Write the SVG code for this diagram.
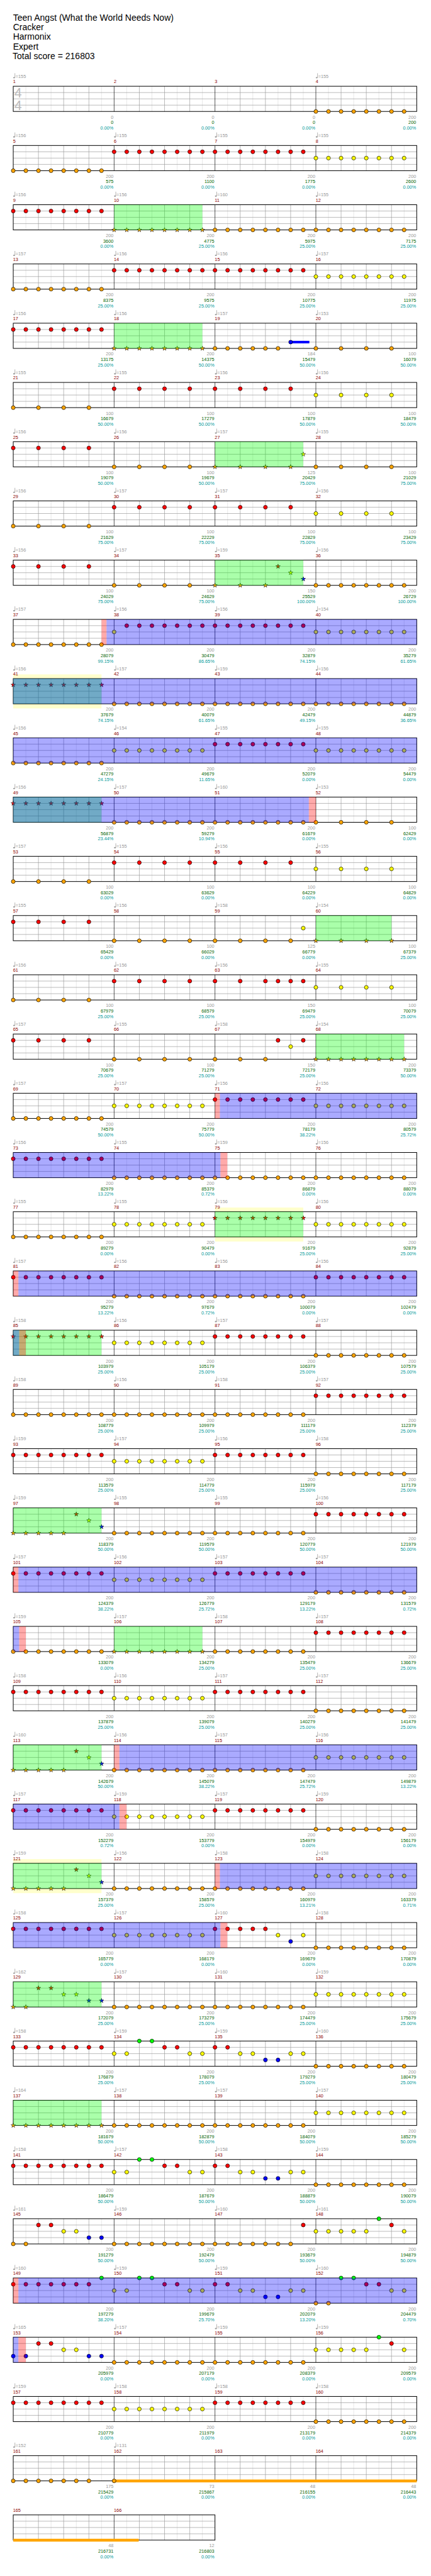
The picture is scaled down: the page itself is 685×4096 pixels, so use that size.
<svg xmlns="http://www.w3.org/2000/svg" width="685" height="4096" viewBox="0 0 685 4096">
<defs>
<style>
text{font-family:"Liberation Sans",Arial,sans-serif;font-size:11px}
.t{fill:#999}.m{fill:#8b0000}
.s1,.s2,.s3{text-anchor:end}
.s1{fill:#999}.s2{fill:#006400}.s3{fill:#009999}
.hd{font-size:21px;fill:#000}
.ts{font-size:32px;fill:#bbb}
.k{fill:#ffa500}.r{fill:#f00}.y{fill:#ff0}.b{fill:#00f}.g{fill:#0f0}
.og{fill:#0f0;fill-opacity:.333}.ob{fill:#00f;fill-opacity:.333}.or{fill:#f00;fill-opacity:.333}
.yb{fill:#ffffcc}
.l8{stroke:#ddd;stroke-width:1;fill:none}.l4{stroke:#999;stroke-width:1;fill:none}.l1{stroke:#000;stroke-width:1;fill:none}
.bd{fill:none;stroke:#000;stroke-width:1.5}
</style>
<circle id="c" r="4.6" stroke="#000" stroke-width="1"/>
<path id="s" d="M0-5.6L1.29-1.78L5.33-1.73L2.09.68L3.29 4.53L0 2.2L-3.29 4.53L-2.09.68L-5.33-1.73L-1.29-1.78Z" stroke="#000" stroke-width=".8"/>
<g id="e8"><use href="#c"/><use href="#c" x="30"/><use href="#c" x="60"/><use href="#c" x="90"/><use href="#c" x="120"/><use href="#c" x="150"/><use href="#c" x="180"/><use href="#c" x="210"/></g>
<g id="q4"><use href="#c"/><use href="#c" x="60"/><use href="#c" x="120"/><use href="#c" x="180"/></g>
<g id="s8"><use href="#s"/><use href="#s" x="30"/><use href="#s" x="60"/><use href="#s" x="90"/><use href="#s" x="120"/><use href="#s" x="150"/><use href="#s" x="180"/><use href="#s" x="210"/></g>
<g id="sq4"><use href="#s"/><use href="#s" x="60"/><use href="#s" x="120"/><use href="#s" x="180"/></g>
<g id="sp1"><use href="#s" class="k" y="60"/><use href="#s" class="k" x="30" y="60"/><use href="#s" class="k" x="60" y="60"/><use href="#s" class="k" x="90" y="60"/><use href="#s" class="k" x="120" y="60"/><use href="#s" class="r" x="150" y="15"/><use href="#s" class="y" x="180" y="30"/><use href="#s" class="b" x="210" y="45"/></g>
<g id="fA"><use href="#c" class="y" y="30"/><use href="#c" class="y" x="30" y="30"/><use href="#c" class="g" x="60"/><use href="#c" class="g" x="90"/><use href="#c" class="r" x="120" y="15"/><use href="#c" class="r" x="150" y="15"/><use href="#c" class="y" x="180" y="30"/><use href="#c" class="y" x="210" y="30"/><use href="#c" class="r" x="240" y="15"/><use href="#c" class="r" x="270" y="15"/><use href="#c" class="y" x="300" y="30"/><use href="#c" class="y" x="330" y="30"/><use href="#c" class="b" x="360" y="45"/><use href="#c" class="b" x="390" y="45"/><use href="#c" class="y" x="420" y="30"/><use href="#c" class="y" x="450" y="30"/></g>
<g id="end1"><use href="#c" class="y" y="30"/><use href="#c" class="y" x="30" y="30"/><use href="#c" class="y" x="60" y="30"/><use href="#c" class="y" x="90" y="30"/><use href="#c" class="y" x="120" y="30"/><use href="#c" class="g" x="150"/><use href="#c" class="r" x="180" y="15"/><use href="#c" class="y" x="210" y="30"/></g>
<g id="rb6"><use href="#c" class="r" y="15"/><use href="#c" class="r" x="30" y="15"/><use href="#c" class="y" x="60" y="30"/><use href="#c" class="y" x="90" y="30"/><use href="#c" class="b" x="120" y="45"/><use href="#c" class="b" x="150" y="45"/></g>
<g id="g4">
<rect x="31.5" width="960" height="60" fill="#fff"/>
<path class="l8" d="M61.5 0v60M121.5 0v60M181.5 0v60M241.5 0v60M301.5 0v60M361.5 0v60M421.5 0v60M481.5 0v60M541.5 0v60M601.5 0v60M661.5 0v60M721.5 0v60M781.5 0v60M841.5 0v60M901.5 0v60M961.5 0v60"/>
<path class="l4" d="M91.5 0v60M151.5 0v60M211.5 0v60M331.5 0v60M391.5 0v60M451.5 0v60M571.5 0v60M631.5 0v60M691.5 0v60M811.5 0v60M871.5 0v60M931.5 0v60M31.5 15h960M31.5 30h960M31.5 45h960"/>
<path class="l1" d="M271.5 0v60M511.5 0v60M751.5 0v60"/>
<rect class="bd" x="31.5" width="960" height="60"/>
</g>
<g id="g2">
<rect x="31.5" width="480" height="60" fill="#fff"/>
<path class="l8" d="M61.5 0v60M121.5 0v60M181.5 0v60M241.5 0v60M301.5 0v60M361.5 0v60M421.5 0v60M481.5 0v60"/>
<path class="l4" d="M91.5 0v60M151.5 0v60M211.5 0v60M331.5 0v60M391.5 0v60M451.5 0v60M31.5 15h480M31.5 30h480M31.5 45h480"/>
<path class="l1" d="M271.5 0v60"/>
<rect class="bd" x="31.5" width="480" height="60"/>
</g>
<g id="tq"><path d="M4-31v10.5" stroke="#999" stroke-width="1.1"/><ellipse cx="2" cy="-20.5" rx="2.3" ry="1.6" fill="#999"/></g>
<g id="tq4"><use href="#tq" x="31.5"/><use href="#tq" x="271.5"/><use href="#tq" x="511.5"/><use href="#tq" x="751.5"/></g>
</defs>
<rect width="685" height="4096" fill="#fff"/>
<g transform="scale(0.668)">
<g id="header">
<text class="hd" x="31" y="49">Teen Angst (What the World Needs Now)</text>
<text class="hd" x="31" y="72">Cracker</text>
<text class="hd" x="31" y="95">Harmonix</text>
<text class="hd" x="31" y="118">Expert</text>
<text class="hd" x="30" y="141">Total score = 216803</text>
</g>

<g id="row1" transform="translate(0 205.3)">
<use href="#g4"/>
<text class="ts" x="34" y="27">4</text><text class="ts" x="34" y="57">4</text>
<use href="#e8" class="k" x="751.5" y="60"/>
<use href="#tq" x="31.5"/><use href="#tq" x="751.5"/>
<text class="t" y="-20"><tspan x="37">=155</tspan><tspan x="757">=155</tspan></text>
<text class="m" y="-7"><tspan x="31">1</tspan><tspan x="271">2</tspan><tspan x="511">3</tspan><tspan x="751">4</tspan></text>
<text class="s1" y="77"><tspan x="270">0</tspan><tspan x="510">0</tspan><tspan x="750">0</tspan><tspan x="990">200</tspan></text>
<text class="s2" y="90"><tspan x="270">0</tspan><tspan x="510">0</tspan><tspan x="750">0</tspan><tspan x="990">200</tspan></text>
<text class="s3" y="103"><tspan x="270">0.00%</tspan><tspan x="510">0.00%</tspan><tspan x="750">0.00%</tspan><tspan x="990">0.00%</tspan></text>
</g>

<g id="row2" transform="translate(0 346.3)">
<use href="#g4"/>
<use href="#e8" class="k" x="31.5" y="60"/><use href="#e8" class="r" x="271.5" y="15"/><use href="#e8" class="r" x="511.5" y="15"/><use href="#e8" class="y" x="751.5" y="30"/>
<use href="#tq4"/>
<text class="t" y="-20"><tspan x="37">=156</tspan><tspan x="277">=155</tspan><tspan x="517">=155</tspan><tspan x="757">=155</tspan></text>
<text class="m" y="-7"><tspan x="31">5</tspan><tspan x="271">6</tspan><tspan x="511">7</tspan><tspan x="751">8</tspan></text>
<text class="s1" y="77"><tspan x="270">200</tspan><tspan x="510">200</tspan><tspan x="750">200</tspan><tspan x="990">200</tspan></text>
<text class="s2" y="90"><tspan x="270">575</tspan><tspan x="510">1100</tspan><tspan x="750">1775</tspan><tspan x="990">2600</tspan></text>
<text class="s3" y="103"><tspan x="270">0.00%</tspan><tspan x="510">0.00%</tspan><tspan x="750">0.00%</tspan><tspan x="990">0.00%</tspan></text>
</g>

<g id="row3" transform="translate(0 487.3)">
<use href="#g4"/>
<use href="#e8" class="r" x="31.5" y="15"/><use href="#s8" class="k" x="271.5" y="60"/><use href="#e8" class="k" x="511.5" y="60"/><use href="#e8" class="k" x="751.5" y="60"/>
<rect class="og" x="271.5" width="210" height="60"/>
<use href="#tq4"/>
<text class="t" y="-20"><tspan x="37">=156</tspan><tspan x="277">=156</tspan><tspan x="517">=160</tspan><tspan x="757">=155</tspan></text>
<text class="m" y="-7"><tspan x="31">9</tspan><tspan x="271">10</tspan><tspan x="511">11</tspan><tspan x="751">12</tspan></text>
<text class="s1" y="77"><tspan x="270">200</tspan><tspan x="510">200</tspan><tspan x="750">200</tspan><tspan x="990">200</tspan></text>
<text class="s2" y="90"><tspan x="270">3600</tspan><tspan x="510">4775</tspan><tspan x="750">5975</tspan><tspan x="990">7175</tspan></text>
<text class="s3" y="103"><tspan x="270">0.00%</tspan><tspan x="510">25.00%</tspan><tspan x="750">25.00%</tspan><tspan x="990">25.00%</tspan></text>
</g>

<g id="row4" transform="translate(0 628.3)">
<use href="#g4"/>
<use href="#e8" class="k" x="31.5" y="60"/><use href="#e8" class="r" x="271.5" y="15"/><use href="#e8" class="r" x="511.5" y="15"/><use href="#e8" class="y" x="751.5" y="30"/>
<use href="#tq4"/>
<text class="t" y="-20"><tspan x="37">=157</tspan><tspan x="277">=156</tspan><tspan x="517">=156</tspan><tspan x="757">=157</tspan></text>
<text class="m" y="-7"><tspan x="31">13</tspan><tspan x="271">14</tspan><tspan x="511">15</tspan><tspan x="751">16</tspan></text>
<text class="s1" y="77"><tspan x="270">200</tspan><tspan x="510">200</tspan><tspan x="750">200</tspan><tspan x="990">200</tspan></text>
<text class="s2" y="90"><tspan x="270">8375</tspan><tspan x="510">9575</tspan><tspan x="750">10775</tspan><tspan x="990">11975</tspan></text>
<text class="s3" y="103"><tspan x="270">25.00%</tspan><tspan x="510">25.00%</tspan><tspan x="750">25.00%</tspan><tspan x="990">25.00%</tspan></text>
</g>

<g id="row5" transform="translate(0 769.3)">
<use href="#g4"/>
<use href="#e8" class="r" x="31.5" y="15"/><use href="#s8" class="k" x="271.5" y="60"/>
<use href="#c" class="k" x="511.5" y="60"/><use href="#c" class="k" x="541.5" y="60"/><use href="#c" class="k" x="571.5" y="60"/><use href="#c" class="k" x="601.5" y="60"/><use href="#c" class="k" x="631.5" y="60"/><use href="#c" class="k" x="661.5" y="60"/>
<rect x="691.5" y="42" width="44.5" height="6" fill="#00f"/><use href="#c" class="b" x="691.5" y="45"/>
<use href="#q4" class="k" x="751.5" y="60"/>
<rect class="og" x="271.5" width="210" height="60"/>
<use href="#tq4"/>
<text class="t" y="-20"><tspan x="37">=156</tspan><tspan x="277">=156</tspan><tspan x="517">=157</tspan><tspan x="757">=153</tspan></text>
<text class="m" y="-7"><tspan x="31">17</tspan><tspan x="271">18</tspan><tspan x="511">19</tspan><tspan x="751">20</tspan></text>
<text class="s1" y="77"><tspan x="270">200</tspan><tspan x="510">200</tspan><tspan x="750">184</tspan><tspan x="990">100</tspan></text>
<text class="s2" y="90"><tspan x="270">13175</tspan><tspan x="510">14375</tspan><tspan x="750">15479</tspan><tspan x="990">16079</tspan></text>
<text class="s3" y="103"><tspan x="270">25.00%</tspan><tspan x="510">50.00%</tspan><tspan x="750">50.00%</tspan><tspan x="990">50.00%</tspan></text>
</g>

<g id="row6" transform="translate(0 910.3)">
<use href="#g4"/>
<use href="#q4" class="k" x="31.5" y="60"/><use href="#q4" class="r" x="271.5" y="15"/><use href="#q4" class="r" x="511.5" y="15"/><use href="#q4" class="y" x="751.5" y="30"/>
<use href="#tq4"/>
<text class="t" y="-20"><tspan x="37">=155</tspan><tspan x="277">=155</tspan><tspan x="517">=156</tspan><tspan x="757">=156</tspan></text>
<text class="m" y="-7"><tspan x="31">21</tspan><tspan x="271">22</tspan><tspan x="511">23</tspan><tspan x="751">24</tspan></text>
<text class="s1" y="77"><tspan x="270">100</tspan><tspan x="510">100</tspan><tspan x="750">100</tspan><tspan x="990">100</tspan></text>
<text class="s2" y="90"><tspan x="270">16679</tspan><tspan x="510">17279</tspan><tspan x="750">17879</tspan><tspan x="990">18479</tspan></text>
<text class="s3" y="103"><tspan x="270">50.00%</tspan><tspan x="510">50.00%</tspan><tspan x="750">50.00%</tspan><tspan x="990">50.00%</tspan></text>
</g>

<g id="row7" transform="translate(0 1051.3)">
<use href="#g4"/>
<use href="#q4" class="r" x="31.5" y="15"/><use href="#q4" class="k" x="271.5" y="60"/><use href="#sq4" class="k" x="511.5" y="60"/><use href="#s" class="y" x="721.5" y="30"/><use href="#q4" class="k" x="751.5" y="60"/>
<rect class="og" x="511.5" width="210" height="60"/>
<use href="#tq4"/>
<text class="t" y="-20"><tspan x="37">=156</tspan><tspan x="277">=156</tspan><tspan x="517">=157</tspan><tspan x="757">=155</tspan></text>
<text class="m" y="-7"><tspan x="31">25</tspan><tspan x="271">26</tspan><tspan x="511">27</tspan><tspan x="751">28</tspan></text>
<text class="s1" y="77"><tspan x="270">100</tspan><tspan x="510">100</tspan><tspan x="750">125</tspan><tspan x="990">100</tspan></text>
<text class="s2" y="90"><tspan x="270">19079</tspan><tspan x="510">19679</tspan><tspan x="750">20429</tspan><tspan x="990">21029</tspan></text>
<text class="s3" y="103"><tspan x="270">50.00%</tspan><tspan x="510">50.00%</tspan><tspan x="750">75.00%</tspan><tspan x="990">75.00%</tspan></text>
</g>

<g id="row8" transform="translate(0 1192.3)">
<use href="#g4"/>
<use href="#q4" class="k" x="31.5" y="60"/><use href="#q4" class="r" x="271.5" y="15"/><use href="#q4" class="r" x="511.5" y="15"/><use href="#q4" class="y" x="751.5" y="30"/>
<use href="#tq4"/>
<text class="t" y="-20"><tspan x="37">=156</tspan><tspan x="277">=157</tspan><tspan x="517">=157</tspan><tspan x="757">=156</tspan></text>
<text class="m" y="-7"><tspan x="31">29</tspan><tspan x="271">30</tspan><tspan x="511">31</tspan><tspan x="751">32</tspan></text>
<text class="s1" y="77"><tspan x="270">100</tspan><tspan x="510">100</tspan><tspan x="750">100</tspan><tspan x="990">100</tspan></text>
<text class="s2" y="90"><tspan x="270">21629</tspan><tspan x="510">22229</tspan><tspan x="750">22829</tspan><tspan x="990">23429</tspan></text>
<text class="s3" y="103"><tspan x="270">75.00%</tspan><tspan x="510">75.00%</tspan><tspan x="750">75.00%</tspan><tspan x="990">75.00%</tspan></text>
</g>

<g id="row9" transform="translate(0 1333.3)">
<use href="#g4"/>
<use href="#q4" class="r" x="31.5" y="15"/><use href="#q4" class="k" x="271.5" y="60"/>
<use href="#s" class="k" x="511.5" y="60"/><use href="#s" class="k" x="571.5" y="60"/><use href="#s" class="k" x="631.5" y="60"/><use href="#s" class="r" x="661.5" y="15"/><use href="#s" class="y" x="691.5" y="30"/><use href="#s" class="b" x="721.5" y="45"/>
<use href="#e8" class="k" x="751.5" y="60"/>
<rect class="og" x="511.5" width="210" height="60"/>
<use href="#tq4"/>
<text class="t" y="-20"><tspan x="37">=156</tspan><tspan x="277">=157</tspan><tspan x="517">=159</tspan><tspan x="757">=156</tspan></text>
<text class="m" y="-7"><tspan x="31">33</tspan><tspan x="271">34</tspan><tspan x="511">35</tspan><tspan x="751">36</tspan></text>
<text class="s1" y="77"><tspan x="270">100</tspan><tspan x="510">100</tspan><tspan x="750">150</tspan><tspan x="990">200</tspan></text>
<text class="s2" y="90"><tspan x="270">24029</tspan><tspan x="510">24629</tspan><tspan x="750">25529</tspan><tspan x="990">26729</tspan></text>
<text class="s3" y="103"><tspan x="270">75.00%</tspan><tspan x="510">75.00%</tspan><tspan x="750">100.00%</tspan><tspan x="990">100.00%</tspan></text>
</g>

<g id="row10" transform="translate(0 1474.3)">
<use href="#g4"/>
<use href="#e8" class="k" x="31.5" y="60"/><use href="#c" class="y" x="271.5" y="30"/>
<use href="#c" class="r" x="301.5" y="15"/><use href="#c" class="r" x="331.5" y="15"/><use href="#c" class="r" x="361.5" y="15"/><use href="#c" class="r" x="391.5" y="15"/><use href="#c" class="r" x="421.5" y="15"/><use href="#c" class="r" x="451.5" y="15"/><use href="#c" class="r" x="481.5" y="15"/>
<use href="#e8" class="r" x="511.5" y="15"/><use href="#e8" class="y" x="751.5" y="30"/>
<rect class="or" x="241.5" width="12" height="60"/><rect class="ob" x="253.5" width="738" height="60"/>
<use href="#tq4"/>
<text class="t" y="-20"><tspan x="37">=157</tspan><tspan x="277">=156</tspan><tspan x="517">=156</tspan><tspan x="757">=154</tspan></text>
<text class="m" y="-7"><tspan x="31">37</tspan><tspan x="271">38</tspan><tspan x="511">39</tspan><tspan x="751">40</tspan></text>
<text class="s1" y="77"><tspan x="270">200</tspan><tspan x="510">200</tspan><tspan x="750">200</tspan><tspan x="990">200</tspan></text>
<text class="s2" y="90"><tspan x="270">28079</tspan><tspan x="510">30479</tspan><tspan x="750">32879</tspan><tspan x="990">35279</tspan></text>
<text class="s3" y="103"><tspan x="270">99.15%</tspan><tspan x="510">86.65%</tspan><tspan x="750">74.15%</tspan><tspan x="990">61.65%</tspan></text>
</g>

<g id="row11" transform="translate(0 1615.3)">
<rect class="yb" x="31.5" y="-10" width="210" height="81"/>
<use href="#g4"/>
<use href="#s8" class="r" x="31.5" y="15"/><use href="#e8" class="k" x="271.5" y="60"/><use href="#e8" class="k" x="511.5" y="60"/><use href="#e8" class="k" x="751.5" y="60"/>
<rect class="og" x="31.5" width="210" height="60"/><rect class="ob" x="31.5" width="960" height="60"/>
<use href="#tq4"/>
<text class="t" y="-20"><tspan x="37">=156</tspan><tspan x="277">=157</tspan><tspan x="517">=159</tspan><tspan x="757">=156</tspan></text>
<text class="m" y="-7"><tspan x="31">41</tspan><tspan x="271">42</tspan><tspan x="511">43</tspan><tspan x="751">44</tspan></text>
<text class="s1" y="77"><tspan x="270">200</tspan><tspan x="510">200</tspan><tspan x="750">200</tspan><tspan x="990">200</tspan></text>
<text class="s2" y="90"><tspan x="270">37679</tspan><tspan x="510">40079</tspan><tspan x="750">42479</tspan><tspan x="990">44879</tspan></text>
<text class="s3" y="103"><tspan x="270">74.15%</tspan><tspan x="510">61.65%</tspan><tspan x="750">49.15%</tspan><tspan x="990">36.65%</tspan></text>
</g>

<g id="row12" transform="translate(0 1756.3)">
<use href="#g4"/>
<use href="#e8" class="k" x="31.5" y="60"/><use href="#e8" class="y" x="271.5" y="30"/><use href="#e8" class="r" x="511.5" y="15"/><use href="#e8" class="y" x="751.5" y="30"/>
<rect class="ob" x="31.5" width="960" height="60"/>
<use href="#tq4"/>
<text class="t" y="-20"><tspan x="37">=156</tspan><tspan x="277">=154</tspan><tspan x="517">=155</tspan><tspan x="757">=155</tspan></text>
<text class="m" y="-7"><tspan x="31">45</tspan><tspan x="271">46</tspan><tspan x="511">47</tspan><tspan x="751">48</tspan></text>
<text class="s1" y="77"><tspan x="270">200</tspan><tspan x="510">200</tspan><tspan x="750">200</tspan><tspan x="990">200</tspan></text>
<text class="s2" y="90"><tspan x="270">47279</tspan><tspan x="510">49679</tspan><tspan x="750">52079</tspan><tspan x="990">54479</tspan></text>
<text class="s3" y="103"><tspan x="270">24.15%</tspan><tspan x="510">11.65%</tspan><tspan x="750">0.00%</tspan><tspan x="990">0.00%</tspan></text>
</g>

<g id="row13" transform="translate(0 1897.3)">
<use href="#g4"/>
<use href="#s8" class="r" x="31.5" y="15"/><use href="#e8" class="k" x="271.5" y="60"/><use href="#e8" class="k" x="511.5" y="60"/><use href="#q4" class="k" x="751.5" y="60"/>
<rect class="og" x="31.5" width="210" height="60"/><rect class="ob" x="31.5" width="703.3" height="60"/><rect class="or" x="734.8" width="16.7" height="60"/>
<use href="#tq4"/>
<text class="t" y="-20"><tspan x="37">=156</tspan><tspan x="277">=157</tspan><tspan x="517">=160</tspan><tspan x="757">=153</tspan></text>
<text class="m" y="-7"><tspan x="31">49</tspan><tspan x="271">50</tspan><tspan x="511">51</tspan><tspan x="751">52</tspan></text>
<text class="s1" y="77"><tspan x="270">200</tspan><tspan x="510">200</tspan><tspan x="750">200</tspan><tspan x="990">100</tspan></text>
<text class="s2" y="90"><tspan x="270">56879</tspan><tspan x="510">59279</tspan><tspan x="750">61679</tspan><tspan x="990">62429</tspan></text>
<text class="s3" y="103"><tspan x="270">23.44%</tspan><tspan x="510">10.94%</tspan><tspan x="750">0.00%</tspan><tspan x="990">0.00%</tspan></text>
</g>

<g id="row14" transform="translate(0 2038.3)">
<use href="#g4"/>
<use href="#q4" class="k" x="31.5" y="60"/><use href="#q4" class="r" x="271.5" y="15"/><use href="#q4" class="r" x="511.5" y="15"/><use href="#q4" class="y" x="751.5" y="30"/>
<use href="#tq4"/>
<text class="t" y="-20"><tspan x="37">=157</tspan><tspan x="277">=155</tspan><tspan x="517">=156</tspan><tspan x="757">=155</tspan></text>
<text class="m" y="-7"><tspan x="31">53</tspan><tspan x="271">54</tspan><tspan x="511">55</tspan><tspan x="751">56</tspan></text>
<text class="s1" y="77"><tspan x="270">100</tspan><tspan x="510">100</tspan><tspan x="750">100</tspan><tspan x="990">100</tspan></text>
<text class="s2" y="90"><tspan x="270">63029</tspan><tspan x="510">63629</tspan><tspan x="750">64229</tspan><tspan x="990">64829</tspan></text>
<text class="s3" y="103"><tspan x="270">0.00%</tspan><tspan x="510">0.00%</tspan><tspan x="750">0.00%</tspan><tspan x="990">0.00%</tspan></text>
</g>

<g id="row15" transform="translate(0 2179.3)">
<use href="#g4"/>
<use href="#q4" class="r" x="31.5" y="15"/><use href="#q4" class="k" x="271.5" y="60"/><use href="#q4" class="k" x="511.5" y="60"/><use href="#c" class="y" x="721.5" y="30"/><use href="#sq4" class="k" x="751.5" y="60"/>
<rect class="og" x="751.5" width="180" height="60"/>
<use href="#tq4"/>
<text class="t" y="-20"><tspan x="37">=155</tspan><tspan x="277">=156</tspan><tspan x="517">=158</tspan><tspan x="757">=154</tspan></text>
<text class="m" y="-7"><tspan x="31">57</tspan><tspan x="271">58</tspan><tspan x="511">59</tspan><tspan x="751">60</tspan></text>
<text class="s1" y="77"><tspan x="270">100</tspan><tspan x="510">100</tspan><tspan x="750">125</tspan><tspan x="990">100</tspan></text>
<text class="s2" y="90"><tspan x="270">65429</tspan><tspan x="510">66029</tspan><tspan x="750">66779</tspan><tspan x="990">67379</tspan></text>
<text class="s3" y="103"><tspan x="270">0.00%</tspan><tspan x="510">0.00%</tspan><tspan x="750">0.00%</tspan><tspan x="990">25.00%</tspan></text>
</g>

<g id="row16" transform="translate(0 2320.3)">
<use href="#g4"/>
<use href="#q4" class="k" x="31.5" y="60"/><use href="#q4" class="r" x="271.5" y="15"/>
<use href="#c" class="r" x="511.5" y="15"/><use href="#c" class="r" x="571.5" y="15"/><use href="#c" class="r" x="631.5" y="15"/><use href="#c" class="r" x="661.5" y="15"/><use href="#c" class="r" x="691.5" y="15"/><use href="#c" class="r" x="721.5" y="15"/>
<use href="#q4" class="y" x="751.5" y="30"/>
<use href="#tq4"/>
<text class="t" y="-20"><tspan x="37">=156</tspan><tspan x="277">=156</tspan><tspan x="517">=156</tspan><tspan x="757">=155</tspan></text>
<text class="m" y="-7"><tspan x="31">61</tspan><tspan x="271">62</tspan><tspan x="511">63</tspan><tspan x="751">64</tspan></text>
<text class="s1" y="77"><tspan x="270">100</tspan><tspan x="510">100</tspan><tspan x="750">150</tspan><tspan x="990">100</tspan></text>
<text class="s2" y="90"><tspan x="270">67979</tspan><tspan x="510">68579</tspan><tspan x="750">69479</tspan><tspan x="990">70079</tspan></text>
<text class="s3" y="103"><tspan x="270">25.00%</tspan><tspan x="510">25.00%</tspan><tspan x="750">25.00%</tspan><tspan x="990">25.00%</tspan></text>
</g>

<g id="row17" transform="translate(0 2461.3)">
<use href="#g4"/>
<use href="#q4" class="r" x="31.5" y="15"/><use href="#q4" class="k" x="271.5" y="60"/>
<use href="#c" class="k" x="511.5" y="60"/><use href="#c" class="k" x="571.5" y="60"/><use href="#c" class="k" x="631.5" y="60"/><use href="#c" class="r" x="661.5" y="15"/><use href="#c" class="y" x="691.5" y="30"/><use href="#c" class="r" x="721.5" y="15"/>
<use href="#s8" class="k" x="751.5" y="60"/>
<rect class="og" x="751.5" width="210" height="60"/>
<use href="#tq4"/>
<text class="t" y="-20"><tspan x="37">=157</tspan><tspan x="277">=155</tspan><tspan x="517">=158</tspan><tspan x="757">=154</tspan></text>
<text class="m" y="-7"><tspan x="31">65</tspan><tspan x="271">66</tspan><tspan x="511">67</tspan><tspan x="751">68</tspan></text>
<text class="s1" y="77"><tspan x="270">100</tspan><tspan x="510">100</tspan><tspan x="750">150</tspan><tspan x="990">200</tspan></text>
<text class="s2" y="90"><tspan x="270">70679</tspan><tspan x="510">71279</tspan><tspan x="750">72179</tspan><tspan x="990">73379</tspan></text>
<text class="s3" y="103"><tspan x="270">25.00%</tspan><tspan x="510">25.00%</tspan><tspan x="750">25.00%</tspan><tspan x="990">50.00%</tspan></text>
</g>

<g id="row18" transform="translate(0 2602.3)">
<use href="#g4"/>
<use href="#e8" class="k" x="31.5" y="60"/><use href="#e8" class="y" x="271.5" y="30"/><use href="#e8" class="r" x="511.5" y="15"/><use href="#e8" class="y" x="751.5" y="30"/>
<rect class="or" x="511.5" width="11.7" height="60"/><rect class="ob" x="523.2" width="468.3" height="60"/>
<use href="#tq4"/>
<text class="t" y="-20"><tspan x="37">=157</tspan><tspan x="277">=157</tspan><tspan x="517">=156</tspan><tspan x="757">=156</tspan></text>
<text class="m" y="-7"><tspan x="31">69</tspan><tspan x="271">70</tspan><tspan x="511">71</tspan><tspan x="751">72</tspan></text>
<text class="s1" y="77"><tspan x="270">200</tspan><tspan x="510">200</tspan><tspan x="750">200</tspan><tspan x="990">200</tspan></text>
<text class="s2" y="90"><tspan x="270">74579</tspan><tspan x="510">75779</tspan><tspan x="750">78179</tspan><tspan x="990">80579</tspan></text>
<text class="s3" y="103"><tspan x="270">50.00%</tspan><tspan x="510">50.00%</tspan><tspan x="750">38.22%</tspan><tspan x="990">25.72%</tspan></text>
</g>

<g id="row19" transform="translate(0 2743.3)">
<use href="#g4"/>
<use href="#e8" class="r" x="31.5" y="15"/><use href="#e8" class="k" x="271.5" y="60"/><use href="#e8" class="k" x="511.5" y="60"/><use href="#e8" class="k" x="751.5" y="60"/>
<rect class="ob" x="31.5" width="493" height="60"/><rect class="or" x="524.5" width="16.3" height="60"/>
<use href="#tq4"/>
<text class="t" y="-20"><tspan x="37">=156</tspan><tspan x="277">=155</tspan><tspan x="517">=159</tspan><tspan x="757">=156</tspan></text>
<text class="m" y="-7"><tspan x="31">73</tspan><tspan x="271">74</tspan><tspan x="511">75</tspan><tspan x="751">76</tspan></text>
<text class="s1" y="77"><tspan x="270">200</tspan><tspan x="510">200</tspan><tspan x="750">200</tspan><tspan x="990">200</tspan></text>
<text class="s2" y="90"><tspan x="270">82979</tspan><tspan x="510">85379</tspan><tspan x="750">86879</tspan><tspan x="990">88079</tspan></text>
<text class="s3" y="103"><tspan x="270">13.22%</tspan><tspan x="510">0.72%</tspan><tspan x="750">0.00%</tspan><tspan x="990">0.00%</tspan></text>
</g>

<g id="row20" transform="translate(0 2884.3)">
<rect class="yb" x="511.5" y="-10" width="210" height="81"/>
<use href="#g4"/>
<use href="#e8" class="k" x="31.5" y="60"/><use href="#e8" class="y" x="271.5" y="30"/><use href="#s8" class="r" x="511.5" y="15"/><use href="#e8" class="y" x="751.5" y="30"/>
<rect class="og" x="511.5" width="210" height="60"/>
<use href="#tq4"/>
<text class="t" y="-20"><tspan x="37">=155</tspan><tspan x="277">=155</tspan><tspan x="517">=156</tspan><tspan x="757">=156</tspan></text>
<text class="m" y="-7"><tspan x="31">77</tspan><tspan x="271">78</tspan><tspan x="511">79</tspan><tspan x="751">80</tspan></text>
<text class="s1" y="77"><tspan x="270">200</tspan><tspan x="510">200</tspan><tspan x="750">200</tspan><tspan x="990">200</tspan></text>
<text class="s2" y="90"><tspan x="270">89279</tspan><tspan x="510">90479</tspan><tspan x="750">91679</tspan><tspan x="990">92879</tspan></text>
<text class="s3" y="103"><tspan x="270">0.00%</tspan><tspan x="510">0.00%</tspan><tspan x="750">25.00%</tspan><tspan x="990">25.00%</tspan></text>
</g>

<g id="row21" transform="translate(0 3025.3)">
<use href="#g4"/>
<use href="#e8" class="r" x="31.5" y="15"/><use href="#e8" class="k" x="271.5" y="60"/><use href="#e8" class="k" x="511.5" y="60"/><use href="#e8" class="r" x="751.5" y="15"/>
<rect class="or" x="31.5" width="12.3" height="60"/><rect class="ob" x="43.8" width="947.7" height="60"/>
<use href="#tq4"/>
<text class="t" y="-20"><tspan x="37">=157</tspan><tspan x="277">=156</tspan><tspan x="517">=156</tspan><tspan x="757">=156</tspan></text>
<text class="m" y="-7"><tspan x="31">81</tspan><tspan x="271">82</tspan><tspan x="511">83</tspan><tspan x="751">84</tspan></text>
<text class="s1" y="77"><tspan x="270">200</tspan><tspan x="510">200</tspan><tspan x="750">200</tspan><tspan x="990">200</tspan></text>
<text class="s2" y="90"><tspan x="270">95279</tspan><tspan x="510">97679</tspan><tspan x="750">100079</tspan><tspan x="990">102479</tspan></text>
<text class="s3" y="103"><tspan x="270">13.22%</tspan><tspan x="510">0.72%</tspan><tspan x="750">0.00%</tspan><tspan x="990">0.00%</tspan></text>
</g>

<g id="row22" transform="translate(0 3166.3)">
<use href="#g4"/>
<use href="#s8" class="r" x="31.5" y="15"/><use href="#e8" class="y" x="271.5" y="30"/><use href="#e8" class="r" x="511.5" y="15"/><use href="#e8" class="k" x="751.5" y="60"/>
<rect class="og" x="31.5" width="210" height="60"/><rect class="ob" x="31.5" width="14.2" height="60"/><rect class="or" x="45.7" width="15.7" height="60"/>
<use href="#tq4"/>
<text class="t" y="-20"><tspan x="37">=158</tspan><tspan x="277">=156</tspan><tspan x="517">=157</tspan><tspan x="757">=157</tspan></text>
<text class="m" y="-7"><tspan x="31">85</tspan><tspan x="271">86</tspan><tspan x="511">87</tspan><tspan x="751">88</tspan></text>
<text class="s1" y="77"><tspan x="270">200</tspan><tspan x="510">200</tspan><tspan x="750">200</tspan><tspan x="990">200</tspan></text>
<text class="s2" y="90"><tspan x="270">103979</tspan><tspan x="510">105179</tspan><tspan x="750">106379</tspan><tspan x="990">107579</tspan></text>
<text class="s3" y="103"><tspan x="270">25.00%</tspan><tspan x="510">25.00%</tspan><tspan x="750">25.00%</tspan><tspan x="990">25.00%</tspan></text>
</g>

<g id="row23" transform="translate(0 3307.3)">
<use href="#g4"/>
<use href="#e8" class="k" x="31.5" y="60"/><use href="#e8" class="k" x="271.5" y="60"/><use href="#e8" class="k" x="511.5" y="60"/><use href="#e8" class="r" x="751.5" y="15"/>
<use href="#tq4"/>
<text class="t" y="-20"><tspan x="37">=158</tspan><tspan x="277">=156</tspan><tspan x="517">=158</tspan><tspan x="757">=157</tspan></text>
<text class="m" y="-7"><tspan x="31">89</tspan><tspan x="271">90</tspan><tspan x="511">91</tspan><tspan x="751">92</tspan></text>
<text class="s1" y="77"><tspan x="270">200</tspan><tspan x="510">200</tspan><tspan x="750">200</tspan><tspan x="990">200</tspan></text>
<text class="s2" y="90"><tspan x="270">108779</tspan><tspan x="510">109979</tspan><tspan x="750">111179</tspan><tspan x="990">112379</tspan></text>
<text class="s3" y="103"><tspan x="270">25.00%</tspan><tspan x="510">25.00%</tspan><tspan x="750">25.00%</tspan><tspan x="990">25.00%</tspan></text>
</g>

<g id="row24" transform="translate(0 3448.3)">
<use href="#g4"/>
<use href="#e8" class="r" x="31.5" y="15"/><use href="#e8" class="y" x="271.5" y="30"/><use href="#e8" class="r" x="511.5" y="15"/><use href="#e8" class="k" x="751.5" y="60"/>
<use href="#tq4"/>
<text class="t" y="-20"><tspan x="37">=159</tspan><tspan x="277">=157</tspan><tspan x="517">=156</tspan><tspan x="757">=158</tspan></text>
<text class="m" y="-7"><tspan x="31">93</tspan><tspan x="271">94</tspan><tspan x="511">95</tspan><tspan x="751">96</tspan></text>
<text class="s1" y="77"><tspan x="270">200</tspan><tspan x="510">200</tspan><tspan x="750">200</tspan><tspan x="990">200</tspan></text>
<text class="s2" y="90"><tspan x="270">113579</tspan><tspan x="510">114779</tspan><tspan x="750">115979</tspan><tspan x="990">117179</tspan></text>
<text class="s3" y="103"><tspan x="270">25.00%</tspan><tspan x="510">25.00%</tspan><tspan x="750">25.00%</tspan><tspan x="990">25.00%</tspan></text>
</g>

<g id="row25" transform="translate(0 3589.3)">
<use href="#g4"/>
<use href="#sp1" x="31.5"/><use href="#e8" class="k" x="271.5" y="60"/><use href="#e8" class="k" x="511.5" y="60"/><use href="#e8" class="r" x="751.5" y="15"/>
<rect class="og" x="31.5" width="210" height="60"/>
<use href="#tq4"/>
<text class="t" y="-20"><tspan x="37">=159</tspan><tspan x="277">=155</tspan><tspan x="517">=155</tspan><tspan x="757">=156</tspan></text>
<text class="m" y="-7"><tspan x="31">97</tspan><tspan x="271">98</tspan><tspan x="511">99</tspan><tspan x="751">100</tspan></text>
<text class="s1" y="77"><tspan x="270">200</tspan><tspan x="510">200</tspan><tspan x="750">200</tspan><tspan x="990">200</tspan></text>
<text class="s2" y="90"><tspan x="270">118379</tspan><tspan x="510">119579</tspan><tspan x="750">120779</tspan><tspan x="990">121979</tspan></text>
<text class="s3" y="103"><tspan x="270">50.00%</tspan><tspan x="510">50.00%</tspan><tspan x="750">50.00%</tspan><tspan x="990">50.00%</tspan></text>
</g>

<g id="row26" transform="translate(0 3730.3)">
<use href="#g4"/>
<use href="#e8" class="r" x="31.5" y="15"/><use href="#e8" class="y" x="271.5" y="30"/><use href="#e8" class="r" x="511.5" y="15"/><use href="#e8" class="k" x="751.5" y="60"/>
<rect class="or" x="31.5" width="12.3" height="60"/><rect class="ob" x="43.8" width="947.7" height="60"/>
<use href="#tq4"/>
<text class="t" y="-20"><tspan x="37">=157</tspan><tspan x="277">=156</tspan><tspan x="517">=157</tspan><tspan x="757">=157</tspan></text>
<text class="m" y="-7"><tspan x="31">101</tspan><tspan x="271">102</tspan><tspan x="511">103</tspan><tspan x="751">104</tspan></text>
<text class="s1" y="77"><tspan x="270">200</tspan><tspan x="510">200</tspan><tspan x="750">200</tspan><tspan x="990">200</tspan></text>
<text class="s2" y="90"><tspan x="270">124379</tspan><tspan x="510">126779</tspan><tspan x="750">129179</tspan><tspan x="990">131579</tspan></text>
<text class="s3" y="103"><tspan x="270">38.22%</tspan><tspan x="510">25.72%</tspan><tspan x="750">13.22%</tspan><tspan x="990">0.72%</tspan></text>
</g>

<g id="row27" transform="translate(0 3871.3)">
<use href="#g4"/>
<use href="#e8" class="k" x="31.5" y="60"/><use href="#s8" class="k" x="271.5" y="60"/><use href="#e8" class="k" x="511.5" y="60"/><use href="#e8" class="r" x="751.5" y="15"/>
<rect class="ob" x="31.5" width="14.2" height="60"/><rect class="or" x="45.7" width="15.7" height="60"/><rect class="og" x="271.5" width="210" height="60"/>
<use href="#tq4"/>
<text class="t" y="-20"><tspan x="37">=159</tspan><tspan x="277">=157</tspan><tspan x="517">=158</tspan><tspan x="757">=157</tspan></text>
<text class="m" y="-7"><tspan x="31">105</tspan><tspan x="271">106</tspan><tspan x="511">107</tspan><tspan x="751">108</tspan></text>
<text class="s1" y="77"><tspan x="270">200</tspan><tspan x="510">200</tspan><tspan x="750">200</tspan><tspan x="990">200</tspan></text>
<text class="s2" y="90"><tspan x="270">133079</tspan><tspan x="510">134279</tspan><tspan x="750">135479</tspan><tspan x="990">136679</tspan></text>
<text class="s3" y="103"><tspan x="270">0.00%</tspan><tspan x="510">25.00%</tspan><tspan x="750">25.00%</tspan><tspan x="990">25.00%</tspan></text>
</g>

<g id="row28" transform="translate(0 4012.3)">
<use href="#g4"/>
<use href="#e8" class="r" x="31.5" y="15"/><use href="#e8" class="y" x="271.5" y="30"/><use href="#e8" class="r" x="511.5" y="15"/><use href="#e8" class="k" x="751.5" y="60"/>
<use href="#tq4"/>
<text class="t" y="-20"><tspan x="37">=158</tspan><tspan x="277">=156</tspan><tspan x="517">=157</tspan><tspan x="757">=157</tspan></text>
<text class="m" y="-7"><tspan x="31">109</tspan><tspan x="271">110</tspan><tspan x="511">111</tspan><tspan x="751">112</tspan></text>
<text class="s1" y="77"><tspan x="270">200</tspan><tspan x="510">200</tspan><tspan x="750">200</tspan><tspan x="990">200</tspan></text>
<text class="s2" y="90"><tspan x="270">137879</tspan><tspan x="510">139079</tspan><tspan x="750">140279</tspan><tspan x="990">141479</tspan></text>
<text class="s3" y="103"><tspan x="270">25.00%</tspan><tspan x="510">25.00%</tspan><tspan x="750">25.00%</tspan><tspan x="990">25.00%</tspan></text>
</g>

<g id="row29" transform="translate(0 4153.3)">
<use href="#g4"/>
<use href="#sp1" x="31.5"/><use href="#e8" class="k" x="271.5" y="60"/><use href="#e8" class="k" x="511.5" y="60"/><use href="#e8" class="y" x="751.5" y="30"/>
<rect class="og" x="31.5" width="210" height="60"/><rect class="or" x="271.5" width="12.6" height="60"/><rect class="ob" x="284.1" width="707.4" height="60"/>
<use href="#tq4"/>
<text class="t" y="-20"><tspan x="37">=160</tspan><tspan x="277">=156</tspan><tspan x="517">=157</tspan><tspan x="757">=156</tspan></text>
<text class="m" y="-7"><tspan x="31">113</tspan><tspan x="271">114</tspan><tspan x="511">115</tspan><tspan x="751">116</tspan></text>
<text class="s1" y="77"><tspan x="270">200</tspan><tspan x="510">200</tspan><tspan x="750">200</tspan><tspan x="990">200</tspan></text>
<text class="s2" y="90"><tspan x="270">142679</tspan><tspan x="510">145079</tspan><tspan x="750">147479</tspan><tspan x="990">149879</tspan></text>
<text class="s3" y="103"><tspan x="270">50.00%</tspan><tspan x="510">38.22%</tspan><tspan x="750">25.72%</tspan><tspan x="990">13.22%</tspan></text>
</g>

<g id="row30" transform="translate(0 4294.3)">
<use href="#g4"/>
<use href="#e8" class="r" x="31.5" y="15"/><use href="#e8" class="y" x="271.5" y="30"/><use href="#e8" class="r" x="511.5" y="15"/><use href="#e8" class="k" x="751.5" y="60"/>
<rect class="ob" x="31.5" width="252.6" height="60"/><rect class="or" x="284.1" width="17" height="60"/>
<use href="#tq4"/>
<text class="t" y="-20"><tspan x="37">=157</tspan><tspan x="277">=159</tspan><tspan x="517">=157</tspan><tspan x="757">=159</tspan></text>
<text class="m" y="-7"><tspan x="31">117</tspan><tspan x="271">118</tspan><tspan x="511">119</tspan><tspan x="751">120</tspan></text>
<text class="s1" y="77"><tspan x="270">200</tspan><tspan x="510">200</tspan><tspan x="750">200</tspan><tspan x="990">200</tspan></text>
<text class="s2" y="90"><tspan x="270">152279</tspan><tspan x="510">153779</tspan><tspan x="750">154979</tspan><tspan x="990">156179</tspan></text>
<text class="s3" y="103"><tspan x="270">0.72%</tspan><tspan x="510">0.00%</tspan><tspan x="750">0.00%</tspan><tspan x="990">0.00%</tspan></text>
</g>

<g id="row31" transform="translate(0 4435.3)">
<rect class="yb" x="31.5" y="-10" width="210" height="81"/>
<use href="#g4"/>
<use href="#sp1" x="31.5"/><use href="#e8" class="k" x="271.5" y="60"/><use href="#e8" class="k" x="511.5" y="60"/><use href="#e8" class="y" x="751.5" y="30"/>
<rect class="og" x="31.5" width="210" height="60"/><rect class="or" x="511.5" width="11.7" height="60"/><rect class="ob" x="523.2" width="468.3" height="60"/>
<use href="#tq4"/>
<text class="t" y="-20"><tspan x="37">=159</tspan><tspan x="277">=156</tspan><tspan x="517">=158</tspan><tspan x="757">=158</tspan></text>
<text class="m" y="-7"><tspan x="31">121</tspan><tspan x="271">122</tspan><tspan x="511">123</tspan><tspan x="751">124</tspan></text>
<text class="s1" y="77"><tspan x="270">200</tspan><tspan x="510">200</tspan><tspan x="750">200</tspan><tspan x="990">200</tspan></text>
<text class="s2" y="90"><tspan x="270">157379</tspan><tspan x="510">158579</tspan><tspan x="750">160979</tspan><tspan x="990">163379</tspan></text>
<text class="s3" y="103"><tspan x="270">25.00%</tspan><tspan x="510">25.00%</tspan><tspan x="750">13.21%</tspan><tspan x="990">0.71%</tspan></text>
</g>

<g id="row32" transform="translate(0 4576.3)">
<use href="#g4"/>
<use href="#e8" class="r" x="31.5" y="15"/><use href="#e8" class="y" x="271.5" y="30"/>
<use href="#c" class="r" x="511.5" y="15"/><use href="#c" class="r" x="541.5" y="15"/><use href="#c" class="r" x="571.5" y="15"/><use href="#c" class="r" x="601.5" y="15"/><use href="#c" class="r" x="631.5" y="15"/><use href="#c" class="y" x="661.5" y="30"/><use href="#c" class="b" x="691.5" y="45"/><use href="#c" class="y" x="721.5" y="30"/>
<use href="#e8" class="k" x="751.5" y="60"/>
<rect class="ob" x="31.5" width="493" height="60"/><rect class="or" x="524.5" width="16.3" height="60"/>
<use href="#tq4"/>
<text class="t" y="-20"><tspan x="37">=158</tspan><tspan x="277">=157</tspan><tspan x="517">=160</tspan><tspan x="757">=158</tspan></text>
<text class="m" y="-7"><tspan x="31">125</tspan><tspan x="271">126</tspan><tspan x="511">127</tspan><tspan x="751">128</tspan></text>
<text class="s1" y="77"><tspan x="270">200</tspan><tspan x="510">200</tspan><tspan x="750">200</tspan><tspan x="990">200</tspan></text>
<text class="s2" y="90"><tspan x="270">165779</tspan><tspan x="510">168179</tspan><tspan x="750">169679</tspan><tspan x="990">170879</tspan></text>
<text class="s3" y="103"><tspan x="270">0.00%</tspan><tspan x="510">0.00%</tspan><tspan x="750">0.00%</tspan><tspan x="990">0.00%</tspan></text>
</g>

<g id="row33" transform="translate(0 4717.3)">
<use href="#g4"/>
<use href="#s" class="k" x="31.5" y="60"/><use href="#s" class="k" x="61.5" y="60"/><use href="#s" class="r" x="91.5" y="15"/><use href="#s" class="r" x="121.5" y="15"/><use href="#s" class="y" x="151.5" y="30"/><use href="#s" class="y" x="181.5" y="30"/><use href="#s" class="b" x="211.5" y="45"/><use href="#s" class="b" x="241.5" y="45"/>
<use href="#e8" class="k" x="271.5" y="60"/><use href="#e8" class="k" x="511.5" y="60"/><use href="#e8" class="y" x="751.5" y="30"/>
<rect class="og" x="31.5" width="210" height="60"/>
<use href="#tq4"/>
<text class="t" y="-20"><tspan x="37">=162</tspan><tspan x="277">=157</tspan><tspan x="517">=160</tspan><tspan x="757">=159</tspan></text>
<text class="m" y="-7"><tspan x="31">129</tspan><tspan x="271">130</tspan><tspan x="511">131</tspan><tspan x="751">132</tspan></text>
<text class="s1" y="77"><tspan x="270">200</tspan><tspan x="510">200</tspan><tspan x="750">200</tspan><tspan x="990">200</tspan></text>
<text class="s2" y="90"><tspan x="270">172079</tspan><tspan x="510">173279</tspan><tspan x="750">174479</tspan><tspan x="990">175679</tspan></text>
<text class="s3" y="103"><tspan x="270">25.00%</tspan><tspan x="510">25.00%</tspan><tspan x="750">25.00%</tspan><tspan x="990">25.00%</tspan></text>
</g>

<g id="row34" transform="translate(0 4858.3)">
<use href="#g4"/>
<use href="#e8" class="r" x="31.5" y="15"/><use href="#fA" x="271.5"/><use href="#e8" class="k" x="751.5" y="60"/>
<use href="#tq4"/>
<text class="t" y="-20"><tspan x="37">=158</tspan><tspan x="277">=159</tspan><tspan x="517">=159</tspan><tspan x="757">=160</tspan></text>
<text class="m" y="-7"><tspan x="31">133</tspan><tspan x="271">134</tspan><tspan x="511">135</tspan><tspan x="751">136</tspan></text>
<text class="s1" y="77"><tspan x="270">200</tspan><tspan x="510">200</tspan><tspan x="750">200</tspan><tspan x="990">200</tspan></text>
<text class="s2" y="90"><tspan x="270">176879</tspan><tspan x="510">178079</tspan><tspan x="750">179279</tspan><tspan x="990">180479</tspan></text>
<text class="s3" y="103"><tspan x="270">25.00%</tspan><tspan x="510">25.00%</tspan><tspan x="750">25.00%</tspan><tspan x="990">25.00%</tspan></text>
</g>

<g id="row35" transform="translate(0 4999.3)">
<use href="#g4"/>
<use href="#s8" class="k" x="31.5" y="60"/><use href="#e8" class="k" x="271.5" y="60"/><use href="#e8" class="k" x="511.5" y="60"/><use href="#e8" class="y" x="751.5" y="30"/>
<rect class="og" x="31.5" width="210" height="60"/>
<use href="#tq4"/>
<text class="t" y="-20"><tspan x="37">=164</tspan><tspan x="277">=157</tspan><tspan x="517">=157</tspan><tspan x="757">=157</tspan></text>
<text class="m" y="-7"><tspan x="31">137</tspan><tspan x="271">138</tspan><tspan x="511">139</tspan><tspan x="751">140</tspan></text>
<text class="s1" y="77"><tspan x="270">200</tspan><tspan x="510">200</tspan><tspan x="750">200</tspan><tspan x="990">200</tspan></text>
<text class="s2" y="90"><tspan x="270">181679</tspan><tspan x="510">182879</tspan><tspan x="750">184079</tspan><tspan x="990">185279</tspan></text>
<text class="s3" y="103"><tspan x="270">50.00%</tspan><tspan x="510">50.00%</tspan><tspan x="750">50.00%</tspan><tspan x="990">50.00%</tspan></text>
</g>

<g id="row36" transform="translate(0 5140.3)">
<use href="#g4"/>
<use href="#e8" class="r" x="31.5" y="15"/><use href="#fA" x="271.5"/><use href="#e8" class="k" x="751.5" y="60"/>
<use href="#tq4"/>
<text class="t" y="-20"><tspan x="37">=158</tspan><tspan x="277">=157</tspan><tspan x="517">=158</tspan><tspan x="757">=159</tspan></text>
<text class="m" y="-7"><tspan x="31">141</tspan><tspan x="271">142</tspan><tspan x="511">143</tspan><tspan x="751">144</tspan></text>
<text class="s1" y="77"><tspan x="270">200</tspan><tspan x="510">200</tspan><tspan x="750">200</tspan><tspan x="990">200</tspan></text>
<text class="s2" y="90"><tspan x="270">186479</tspan><tspan x="510">187679</tspan><tspan x="750">188879</tspan><tspan x="990">190079</tspan></text>
<text class="s3" y="103"><tspan x="270">50.00%</tspan><tspan x="510">50.00%</tspan><tspan x="750">50.00%</tspan><tspan x="990">50.00%</tspan></text>
</g>

<g id="row37" transform="translate(0 5281.3)">
<use href="#g4"/>
<use href="#c" class="k" x="31.5" y="60"/><use href="#c" class="k" x="61.5" y="60"/><use href="#rb6" x="91.5"/>
<use href="#e8" class="k" x="271.5" y="60"/>
<use href="#c" class="k" x="511.5" y="60"/><use href="#c" class="k" x="541.5" y="60"/><use href="#c" class="k" x="571.5" y="60"/><use href="#c" class="k" x="601.5" y="60"/><use href="#c" class="k" x="631.5" y="60"/><use href="#c" class="k" x="661.5" y="60"/><use href="#c" class="k" x="691.5" y="60"/><use href="#c" class="r" x="721.5" y="15"/>
<use href="#end1" x="751.5"/>
<use href="#tq4"/>
<text class="t" y="-20"><tspan x="37">=161</tspan><tspan x="277">=159</tspan><tspan x="517">=160</tspan><tspan x="757">=161</tspan></text>
<text class="m" y="-7"><tspan x="31">145</tspan><tspan x="271">146</tspan><tspan x="511">147</tspan><tspan x="751">148</tspan></text>
<text class="s1" y="77"><tspan x="270">200</tspan><tspan x="510">200</tspan><tspan x="750">200</tspan><tspan x="990">200</tspan></text>
<text class="s2" y="90"><tspan x="270">191279</tspan><tspan x="510">192479</tspan><tspan x="750">193679</tspan><tspan x="990">194879</tspan></text>
<text class="s3" y="103"><tspan x="270">50.00%</tspan><tspan x="510">50.00%</tspan><tspan x="750">50.00%</tspan><tspan x="990">50.00%</tspan></text>
</g>

<g id="row38" transform="translate(0 5422.3)">
<use href="#g4"/>
<use href="#c" class="r" x="31.5" y="15"/><use href="#c" class="r" x="61.5" y="15"/><use href="#c" class="r" x="91.5" y="15"/><use href="#c" class="r" x="121.5" y="15"/><use href="#c" class="r" x="151.5" y="15"/><use href="#c" class="r" x="181.5" y="15"/><use href="#c" class="r" x="211.5" y="15"/><use href="#c" class="g" x="241.5"/>
<use href="#fA" x="271.5"/>
<use href="#c" class="k" x="751.5" y="60"/><use href="#c" class="k" x="781.5" y="60"/><use href="#c" class="g" x="811.5"/><use href="#c" class="g" x="841.5"/><use href="#c" class="r" x="871.5" y="15"/><use href="#c" class="r" x="901.5" y="15"/><use href="#c" class="y" x="931.5" y="30"/><use href="#c" class="y" x="961.5" y="30"/>
<rect class="or" x="31.5" width="12.3" height="60"/><rect class="ob" x="43.8" width="947.7" height="60"/>
<use href="#tq4"/>
<text class="t" y="-20"><tspan x="37">=160</tspan><tspan x="277">=159</tspan><tspan x="517">=159</tspan><tspan x="757">=160</tspan></text>
<text class="m" y="-7"><tspan x="31">149</tspan><tspan x="271">150</tspan><tspan x="511">151</tspan><tspan x="751">152</tspan></text>
<text class="s1" y="77"><tspan x="270">200</tspan><tspan x="510">200</tspan><tspan x="750">200</tspan><tspan x="990">200</tspan></text>
<text class="s2" y="90"><tspan x="270">197279</tspan><tspan x="510">199679</tspan><tspan x="750">202079</tspan><tspan x="990">204479</tspan></text>
<text class="s3" y="103"><tspan x="270">38.20%</tspan><tspan x="510">25.70%</tspan><tspan x="750">13.20%</tspan><tspan x="990">0.70%</tspan></text>
</g>

<g id="row39" transform="translate(0 5563.3)">
<use href="#g4"/>
<use href="#c" class="b" x="31.5" y="45"/><use href="#c" class="b" x="61.5" y="45"/><use href="#rb6" x="91.5"/>
<use href="#e8" class="k" x="271.5" y="60"/><use href="#e8" class="k" x="511.5" y="60"/><use href="#end1" x="751.5"/>
<rect class="ob" x="31.5" width="12.3" height="60"/><rect class="or" x="43.8" width="17.6" height="60"/>
<use href="#tq4"/>
<text class="t" y="-20"><tspan x="37">=165</tspan><tspan x="277">=157</tspan><tspan x="517">=159</tspan><tspan x="757">=159</tspan></text>
<text class="m" y="-7"><tspan x="31">153</tspan><tspan x="271">154</tspan><tspan x="511">155</tspan><tspan x="751">156</tspan></text>
<text class="s1" y="77"><tspan x="270">200</tspan><tspan x="510">200</tspan><tspan x="750">200</tspan><tspan x="990">200</tspan></text>
<text class="s2" y="90"><tspan x="270">205979</tspan><tspan x="510">207179</tspan><tspan x="750">208379</tspan><tspan x="990">209579</tspan></text>
<text class="s3" y="103"><tspan x="270">0.00%</tspan><tspan x="510">0.00%</tspan><tspan x="750">0.00%</tspan><tspan x="990">0.00%</tspan></text>
</g>

<g id="row40" transform="translate(0 5704.3)">
<use href="#g4"/>
<use href="#e8" class="r" x="31.5" y="15"/><use href="#e8" class="y" x="271.5" y="30"/><use href="#e8" class="r" x="511.5" y="15"/><use href="#e8" class="k" x="751.5" y="60"/>
<use href="#tq4"/>
<text class="t" y="-20"><tspan x="37">=159</tspan><tspan x="277">=158</tspan><tspan x="517">=158</tspan><tspan x="757">=158</tspan></text>
<text class="m" y="-7"><tspan x="31">157</tspan><tspan x="271">158</tspan><tspan x="511">159</tspan><tspan x="751">160</tspan></text>
<text class="s1" y="77"><tspan x="270">200</tspan><tspan x="510">200</tspan><tspan x="750">200</tspan><tspan x="990">200</tspan></text>
<text class="s2" y="90"><tspan x="270">210779</tspan><tspan x="510">211979</tspan><tspan x="750">213179</tspan><tspan x="990">214379</tspan></text>
<text class="s3" y="103"><tspan x="270">0.00%</tspan><tspan x="510">0.00%</tspan><tspan x="750">0.00%</tspan><tspan x="990">0.00%</tspan></text>
</g>

<g id="row41" transform="translate(0 5845.3)">
<use href="#g4"/>
<use href="#c" class="k" x="31.5" y="60"/><use href="#c" class="k" x="61.5" y="60"/><use href="#c" class="k" x="91.5" y="60"/><use href="#c" class="k" x="121.5" y="60"/><use href="#c" class="k" x="151.5" y="60"/><use href="#c" class="k" x="181.5" y="60"/><use href="#c" class="k" x="211.5" y="60"/>
<rect x="271.5" y="56.8" width="720" height="6.8" fill="#ffa500"/><use href="#c" class="k" x="271.5" y="60"/>
<use href="#tq" x="31.5"/><use href="#tq" x="271.5"/>
<text class="t" y="-20"><tspan x="37">=152</tspan><tspan x="277">=131</tspan></text>
<text class="m" y="-7"><tspan x="31">161</tspan><tspan x="271">162</tspan><tspan x="511">163</tspan><tspan x="751">164</tspan></text>
<text class="s1" y="77"><tspan x="270">175</tspan><tspan x="510">73</tspan><tspan x="750">48</tspan><tspan x="990">48</tspan></text>
<text class="s2" y="90"><tspan x="270">215429</tspan><tspan x="510">215867</tspan><tspan x="750">216155</tspan><tspan x="990">216443</tspan></text>
<text class="s3" y="103"><tspan x="270">0.00%</tspan><tspan x="510">0.00%</tspan><tspan x="750">0.00%</tspan><tspan x="990">0.00%</tspan></text>
</g>

<g id="row42" transform="translate(0 5986.3)">
<use href="#g2"/>
<rect x="31.5" y="56.8" width="298.5" height="6.8" fill="#ffa500"/>
<text class="m" y="-7"><tspan x="31">165</tspan><tspan x="271">166</tspan></text>
<text class="s1" y="77"><tspan x="270">48</tspan><tspan x="510">12</tspan></text>
<text class="s2" y="90"><tspan x="270">216731</tspan><tspan x="510">216803</tspan></text>
<text class="s3" y="103"><tspan x="270">0.00%</tspan><tspan x="510">0.00%</tspan></text>
</g>
</g>
</svg>
